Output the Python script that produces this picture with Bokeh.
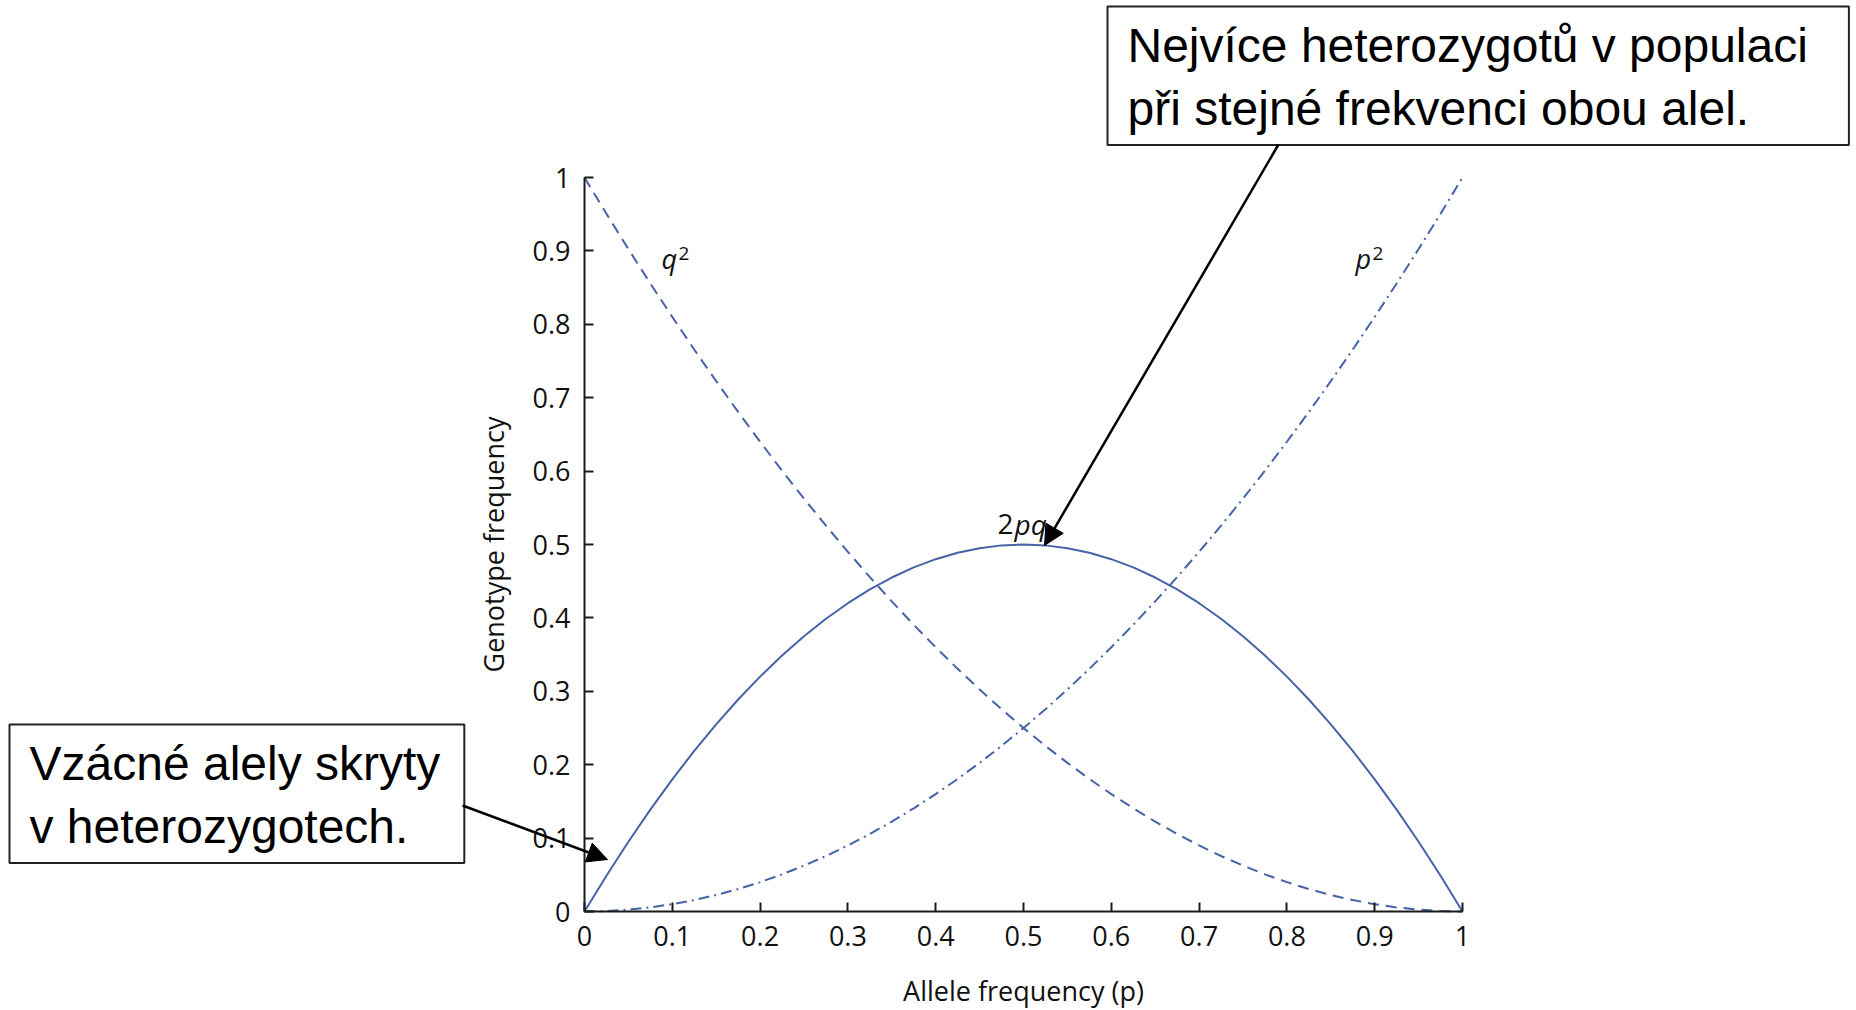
from bokeh.plotting import figure
from bokeh.models import Range1d, FixedTicker, Label, Arrow, NormalHead, LinearAxis
from bokeh.embed import file_html
from bokeh.resources import INLINE

# ---- data ----
p_vals = [0.0, 0.025, 0.05, 0.075, 0.1, 0.125, 0.15, 0.175, 0.2, 0.225, 0.25,
          0.275, 0.3, 0.325, 0.35, 0.375, 0.4, 0.425, 0.45, 0.475, 0.5,
          0.525, 0.55, 0.575, 0.6, 0.625, 0.65, 0.675, 0.7, 0.725, 0.75,
          0.775, 0.8, 0.825, 0.85, 0.875, 0.9, 0.925, 0.95, 0.975, 1.0]
q2_vals = [1.0, 0.9506, 0.9025, 0.8556, 0.81, 0.7656, 0.7225, 0.6806, 0.64, 0.6006, 0.5625,
           0.5256, 0.49, 0.4556, 0.4225, 0.3906, 0.36, 0.3306, 0.3025, 0.2756, 0.25,
           0.2256, 0.2025, 0.1806, 0.16, 0.1406, 0.1225, 0.1056, 0.09, 0.0756, 0.0625,
           0.0506, 0.04, 0.0306, 0.0225, 0.0156, 0.01, 0.0056, 0.0025, 0.0006, 0.0]
p2_vals = [0.0, 0.0006, 0.0025, 0.0056, 0.01, 0.0156, 0.0225, 0.0306, 0.04, 0.0506, 0.0625,
           0.0756, 0.09, 0.1056, 0.1225, 0.1406, 0.16, 0.1806, 0.2025, 0.2256, 0.25,
           0.2756, 0.3025, 0.3306, 0.36, 0.3906, 0.4225, 0.4556, 0.49, 0.5256, 0.5625,
           0.6006, 0.64, 0.6806, 0.7225, 0.7656, 0.81, 0.8556, 0.9025, 0.9506, 1.0]
het_vals = [0.0, 0.0488, 0.095, 0.1388, 0.18, 0.2188, 0.255, 0.2888, 0.32, 0.3488, 0.375,
            0.3988, 0.42, 0.4388, 0.455, 0.4688, 0.48, 0.4888, 0.495, 0.4988, 0.5,
            0.4988, 0.495, 0.4888, 0.48, 0.4688, 0.455, 0.4388, 0.42, 0.3988, 0.375,
            0.3488, 0.32, 0.2888, 0.255, 0.2188, 0.18, 0.1388, 0.095, 0.0488, 0.0]
tick_values = [0, 0.1, 0.2, 0.3, 0.4, 0.5, 0.6, 0.7, 0.8, 0.9, 1]
tick_labels = ["0", "0.1", "0.2", "0.3", "0.4", "0.5", "0.6", "0.7", "0.8", "0.9", "1"]
x_title = "Allele frequency (p)"
y_title = "Genotype frequency"
note_top = "Nejvíce heterozygotů v populaci\npři stejné frekvenci obou alel."
note_left = "Vzácné alely skryty\nv heterozygotech."

W, H = 1856, 1010
FL, FR, FT, FB = 584, 1462, 177, 911   # where the 0..1 axes sit, in canvas pixels
LINE = "#4563a6"
FONT = "Open Sans"


def dx(px):
    return (px - FL) / (FR - FL)


def dy(py):
    return (FB - py) / (FB - FT)


p = figure(width=W, height=H, output_backend="svg", toolbar_location=None,
           x_range=Range1d(dx(0), dx(W)), y_range=Range1d(dy(H), dy(0)),
           x_axis_location=None, y_axis_location=None,
           min_border=0)
p.outline_line_color = None
p.grid.visible = False
p.background_fill_color = "white"
p.border_fill_color = "white"

xax = LinearAxis(fixed_location=0, bounds=(0, 1))
yax = LinearAxis(fixed_location=0, bounds=(0, 1))
for ax in (xax, yax):
    ax.ticker = FixedTicker(ticks=tick_values)
    ax.major_label_overrides = dict(zip(tick_values, tick_labels))
    ax.major_tick_in = 9
    ax.major_tick_out = 0
    ax.minor_tick_line_color = None
    ax.axis_line_width = 2
    ax.axis_line_color = "#1a1a1a"
    ax.major_tick_line_width = 2
    ax.major_tick_line_color = "#1a1a1a"
    ax.major_label_text_font = FONT
    ax.major_label_text_font_size = "27px"
    ax.major_label_text_color = "#111111"
    ax.axis_label_text_font = FONT
    ax.axis_label_text_font_size = "27px"
    ax.axis_label_text_font_style = "normal"
    ax.axis_label_text_color = "#111111"
    ax.major_label_standoff = 14
xax.axis_label = x_title
yax.axis_label = y_title
xax.axis_label_standoff = 23
yax.axis_label_standoff = 18
p.add_layout(xax, "below")
p.add_layout(yax, "left")

p.line(p_vals, het_vals, line_color=LINE, line_width=2)
p.line(p_vals, q2_vals, line_color=LINE, line_width=2, line_dash="11 7")
p.line(p_vals, p2_vals, line_color=LINE, line_width=2, line_dash="11 5 2 5")


def txt(x, y, s, size="26px", style="normal", font=FONT):
    p.add_layout(Label(x=dx(x), y=dy(y), text=s, text_font=font,
                       text_font_size=size, text_font_style=style,
                       text_color="#111111", text_baseline="alphabetic",
                       text_align="left"))


# curve labels
txt(661, 258, "q", size="27px", style="italic")
txt(678, 253, "2", size="19px")
txt(1355, 258, "p", size="27px", style="italic")
txt(1372, 253, "2", size="19px")
txt(997, 523, "2", size="28px")
txt(1014, 523, "pq", size="28px", style="italic")

# annotation boxes (padding order: left, right, top, bottom)
p.add_layout(Label(x=dx(1107), y=dy(6), text=note_top, anchor="top_left",
                   text_font="Liberation Sans", text_font_size="48px",
                   text_color="black", text_line_height=1.2,
                   background_fill_color="white", border_line_color="#222222",
                   border_line_width=2, padding=(20, 41, 12, 10)))
p.add_layout(Label(x=dx(9), y=dy(724), text=note_left, anchor="top_left",
                   text_font="Liberation Sans", text_font_size="48px",
                   text_color="black", text_line_height=1.2,
                   background_fill_color="white", border_line_color="#222222",
                   border_line_width=2, padding=(20, 24, 12, 10)))

# arrows
p.add_layout(Arrow(x_start=dx(1278), y_start=dy(144), x_end=dx(1044), y_end=dy(545),
                   line_width=2.5, line_color="black",
                   end=NormalHead(size=20, fill_color="black", line_color="black")))
p.add_layout(Arrow(x_start=dx(462), y_start=dy(805), x_end=dx(607), y_end=dy(859),
                   line_width=2.5, line_color="black",
                   end=NormalHead(size=20, fill_color="black", line_color="black")))

open("out.html", "w").write(file_html(p, INLINE))
